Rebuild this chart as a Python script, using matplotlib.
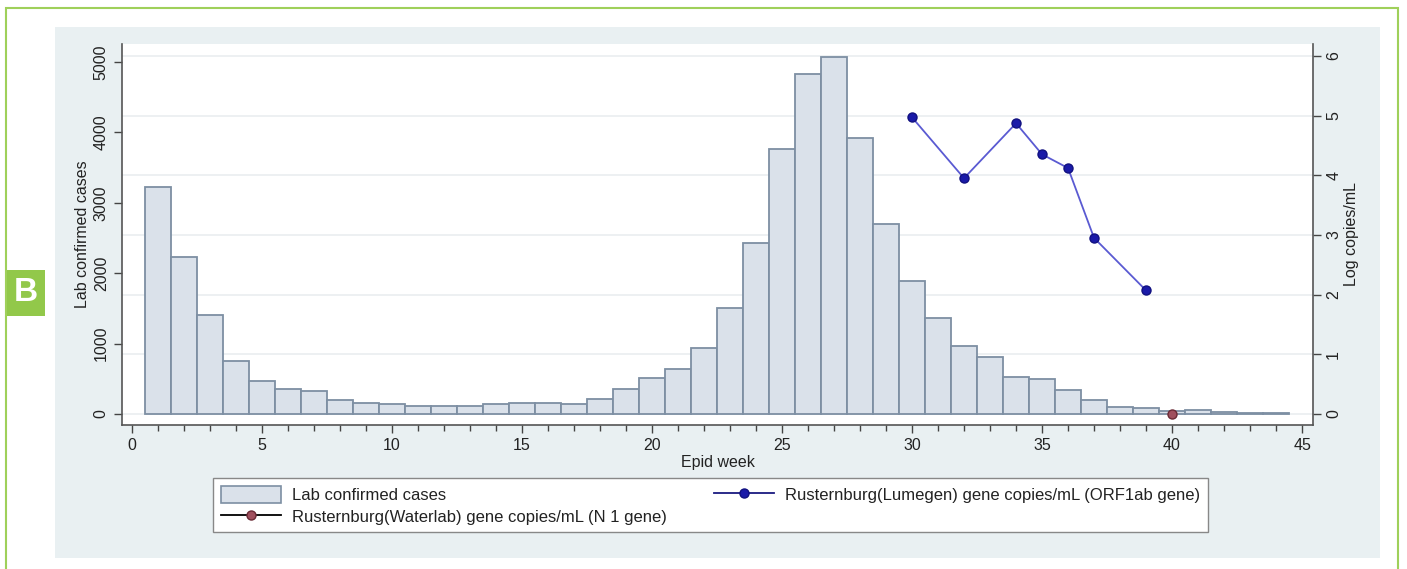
import matplotlib
matplotlib.use("Agg")
import matplotlib.pyplot as plt
from matplotlib.patches import Rectangle, Patch
from matplotlib.lines import Line2D
import numpy as np

plt.rcParams['font.family'] = ['Liberation Sans', 'DejaVu Sans']

# ---------------- data ----------------
weeks = list(range(1, 45))
cases = [3230, 2230, 1400, 760, 470, 360, 320, 200, 160, 146,
         118, 118, 118, 142, 160, 160, 137, 217, 355, 516,
         635, 942, 1501, 2424, 3760, 4825, 5075, 3916, 2699, 1894,
         1360, 966, 805, 530, 497, 340, 200, 100, 80, 43,
         61, 24, 10, 10]
lumegen_weeks = [30, 32, 34, 35, 36, 37, 39]
lumegen_log = [4.97, 3.95, 4.87, 4.35, 4.12, 2.95, 2.07]
waterlab_weeks = [40]
waterlab_log = [0.0]
x_ticks = [0, 5, 10, 15, 20, 25, 30, 35, 40, 45]
left_ticks = [0, 1000, 2000, 3000, 4000, 5000]
right_ticks = [0, 1, 2, 3, 4, 5, 6]

W, H = 1407, 569
fig = plt.figure(figsize=(W / 100, H / 100), dpi=100)
fig.patch.set_facecolor('white')

def fx(px):
    return px / W

def fy(py):
    return 1 - py / H

# green frame
fig.patches.append(Rectangle((fx(6), fy(600)), fx(1398) - fx(6), fy(8) - fy(600),
                             transform=fig.transFigure, fill=False,
                             edgecolor='#9fd05a', linewidth=1.5, zorder=-2))
# graph region
fig.patches.append(Rectangle((fx(55), fy(558)), fx(1380) - fx(55), fy(27) - fy(558),
                             transform=fig.transFigure, facecolor='#e9f0f2',
                             edgecolor='none', zorder=-2))
# "B" label
fig.patches.append(Rectangle((fx(7), fy(316)), fx(45) - fx(7), fy(270) - fy(316),
                             transform=fig.transFigure, facecolor='#92c84a',
                             edgecolor='none', zorder=-1))
fig.text(fx(26), fy(293), 'B', color='white', fontsize=24, fontweight='bold',
         ha='center', va='center')

pos = [fx(122), fy(425), fx(1313) - fx(122), fy(44) - fy(425)]
xlim = (-0.38, 45.42)
ylim_left = (-156, 5256)
ylim_right = (-0.184, 6.198)

# grid axes (behind)
axg = fig.add_axes(pos, zorder=0.5)
axg.set_facecolor('white')
axg.set_xlim(xlim)
axg.set_ylim(ylim_right)
axg.set_yticks(right_ticks)
axg.set_xticks([])
axg.grid(axis='y', color='#eaeef0', linewidth=1.2)
axg.tick_params(left=False, labelleft=False, bottom=False, labelbottom=False)
for s in axg.spines.values():
    s.set_visible(False)

tick_col = '#444444'
fs = 11.5

# bars axis (left)
ax = fig.add_axes(pos, zorder=1)
ax.patch.set_visible(False)
ax.bar(weeks, cases, width=1.0, color='#dae1ea', edgecolor='#7d8fa3', linewidth=1.3)
ax.set_xlim(xlim)
ax.set_ylim(ylim_left)
ax.set_yticks(left_ticks)
ax.set_yticklabels([str(v) for v in left_ticks], rotation=90, va='center')
ax.set_xticks(x_ticks)
ax.set_xticks(range(0, 46), minor=True)
ax.tick_params(axis='both', which='major', direction='out', length=6, width=1,
               color=tick_col, labelsize=fs, labelcolor='#222222')
ax.tick_params(axis='x', which='minor', direction='out', length=4, width=1, color=tick_col)
ax.tick_params(axis='y', which='minor', left=False)
ax.set_ylabel('Lab confirmed cases', fontsize=fs, color='#222222')
ax.yaxis.set_label_coords(-0.027, 0.5)
ax.set_xlabel('Epid week', fontsize=fs, color='#222222', labelpad=1)
ax.spines['top'].set_visible(False)
ax.spines['right'].set_visible(False)
for s in ['left', 'bottom']:
    ax.spines[s].set_color('#555555')
    ax.spines[s].set_linewidth(1.2)

# line axis (right)
ax2 = fig.add_axes(pos, zorder=2)
ax2.patch.set_visible(False)
ax2.set_xlim(xlim)
ax2.set_ylim(ylim_right)
ax2.plot(lumegen_weeks, lumegen_log, color='#5a5ad2', linewidth=1.3,
         marker='o', markersize=6.5, markerfacecolor='#1a1aa8',
         markeredgecolor='#101080', zorder=3)
ax2.plot(waterlab_weeks, waterlab_log, color='black', linewidth=1.3, linestyle='none',
         marker='o', markersize=6.5, markerfacecolor='#a0505e',
         markeredgecolor='#6a2a35', zorder=3)
ax2.yaxis.tick_right()
ax2.yaxis.set_label_position('right')
ax2.set_yticks(right_ticks)
ax2.set_yticklabels([str(v) for v in right_ticks], rotation=90, va='center')
ax2.tick_params(axis='y', direction='out', length=6, width=1, color=tick_col,
                labelsize=fs, labelcolor='#222222')
ax2.tick_params(axis='x', bottom=False, labelbottom=False)
ax2.set_ylabel('Log copies/mL', fontsize=fs, color='#222222', labelpad=2)
for s in ['top', 'left', 'bottom']:
    ax2.spines[s].set_visible(False)
ax2.spines['right'].set_color('#555555')
ax2.spines['right'].set_linewidth(1.2)

# legend
handles = [
    Patch(facecolor='#dae1ea', edgecolor='#7d8fa3', linewidth=1.2),
    Line2D([0], [0], color='black', linewidth=1.3, marker='o', markersize=6.5,
           markerfacecolor='#a0505e', markeredgecolor='#6a2a35'),
    Line2D([0], [0], color='#1a1a80', linewidth=1.3, marker='o', markersize=6.5,
           markerfacecolor='#1a1aa8', markeredgecolor='#101080'),
]
labels = ['Lab confirmed cases',
          'Rusternburg(Waterlab) gene copies/mL (N 1 gene)',
          'Rusternburg(Lumegen) gene copies/mL (ORF1ab gene)']
leg = fig.legend(handles, labels, ncol=2, loc='upper left',
                 bbox_to_anchor=(fx(213), fy(478)), frameon=True, fancybox=False,
                 framealpha=1, facecolor='white',
                 fontsize=12, handlelength=3.6, handleheight=1.2, handletextpad=0.7,
                 columnspacing=2.8, labelspacing=0.3, borderpad=0.45, borderaxespad=0)
leg.get_frame().set_edgecolor('#888888')
leg.get_frame().set_linewidth(1.0)
for t in leg.get_texts():
    t.set_color('#222222')

fig.savefig('out.png', dpi=100)
